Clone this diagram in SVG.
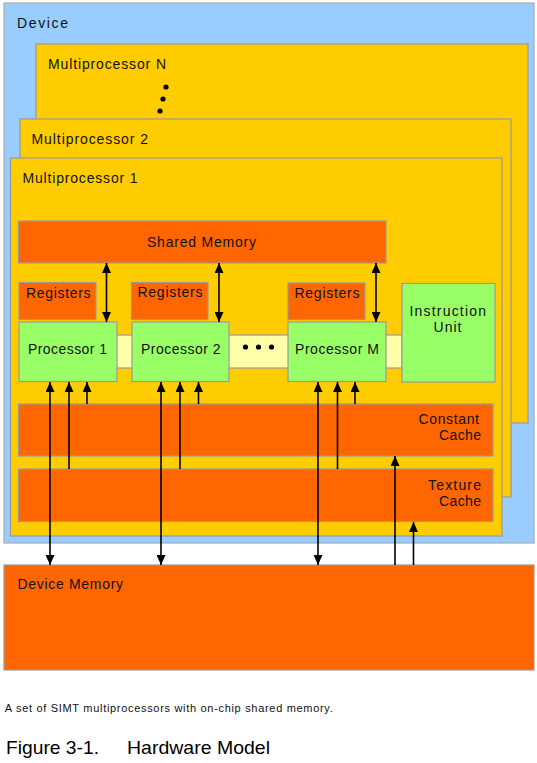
<svg xmlns="http://www.w3.org/2000/svg" width="537" height="763" viewBox="0 0 537 763">
<defs>
<marker id="ah" markerUnits="userSpaceOnUse" markerWidth="10" markerHeight="9" refX="10" refY="4.5" orient="auto-start-reverse" viewBox="0 0 10 9">
<path d="M0,0 L10,4.5 L0,9 z" fill="#000"/>
</marker>
<style>
.t{font-family:"Liberation Sans",Arial,sans-serif;font-size:14px;fill:#111;}
.bx{stroke:#999;stroke-width:1.2;}
.or{fill:#ff6600;}
.ye{fill:#ffcc00;}
.gr{fill:#99ff66;}
.ar{stroke:#000;stroke-width:1.6;fill:none;}
</style>
</defs>
<rect width="537" height="763" fill="#fff"/>
<g id="device">
<rect x="4" y="3" width="530" height="540" fill="#99ccff" stroke="#aaa" stroke-width="1.2"/>
<text class="t" x="17" y="28" textLength="51" lengthAdjust="spacing">Device</text>
</g>
<g id="mpN">
<rect class="bx ye" x="36" y="44" width="492" height="379"/>
<text class="t" x="48" y="69" textLength="118" lengthAdjust="spacing">Multiprocessor N</text>
<circle cx="166" cy="87" r="2.6" fill="#000"/>
<circle cx="163" cy="99" r="2.6" fill="#000"/>
<circle cx="160" cy="111" r="2.6" fill="#000"/>
</g>
<g id="mp2">
<rect class="bx ye" x="20" y="119" width="491" height="378"/>
<text class="t" x="31.5" y="144" textLength="116.5" lengthAdjust="spacing">Multiprocessor 2</text>
</g>
<g id="mp1">
<rect class="bx ye" x="10.5" y="158" width="491.5" height="378"/>
<text class="t" x="22.5" y="183" textLength="115" lengthAdjust="spacing">Multiprocessor 1</text>
</g>
<g id="bus">
<rect class="bx" x="116" y="335" width="286" height="33" fill="#ffffaa"/>
<circle cx="245.5" cy="347" r="2.6" fill="#000"/>
<circle cx="258.5" cy="347" r="2.6" fill="#000"/>
<circle cx="271.5" cy="347" r="2.6" fill="#000"/>
</g>
<g id="shared-memory">
<rect class="bx or" x="18.5" y="221" width="367.5" height="42"/>
<text class="t" x="147" y="247" textLength="109" lengthAdjust="spacing">Shared Memory</text>
</g>
<g id="registers-1">
<rect class="bx or" x="19" y="282.5" width="77" height="37"/>
<text class="t" x="26" y="297.5" textLength="64.5" lengthAdjust="spacing">Registers</text>
</g>
<g id="registers-2">
<rect class="bx or" x="131.5" y="282.5" width="76.5" height="37"/>
<text class="t" x="137.5" y="297" textLength="65" lengthAdjust="spacing">Registers</text>
</g>
<g id="registers-m">
<rect class="bx or" x="288" y="283" width="77" height="36.5"/>
<text class="t" x="294.5" y="297.5" textLength="65" lengthAdjust="spacing">Registers</text>
</g>
<g id="processor-1">
<rect class="bx gr" x="19" y="322" width="98" height="59.5"/>
<text class="t" x="28" y="354" textLength="79" lengthAdjust="spacing">Processor 1</text>
</g>
<g id="processor-2">
<rect class="bx gr" x="132" y="322" width="97" height="59.5"/>
<text class="t" x="141" y="354" textLength="79.5" lengthAdjust="spacing">Processor 2</text>
</g>
<g id="processor-m">
<rect class="bx gr" x="288" y="322" width="98" height="59.5"/>
<text class="t" x="295" y="354" textLength="84" lengthAdjust="spacing">Processor M</text>
</g>
<g id="instruction-unit">
<rect class="bx gr" x="402" y="283.5" width="93" height="98.5"/>
<text class="t" x="409.5" y="316" textLength="76.5" lengthAdjust="spacing">Instruction</text>
<text class="t" x="433.5" y="332" textLength="28" lengthAdjust="spacing">Unit</text>
</g>
<g id="constant-cache">
<rect class="bx or" x="18.5" y="404" width="474.5" height="52"/>
<text class="t" x="418.5" y="424" textLength="60.5" lengthAdjust="spacing">Constant</text>
<text class="t" x="439" y="440" textLength="42" lengthAdjust="spacing">Cache</text>
</g>
<g id="texture-cache">
<rect class="bx or" x="18.5" y="469" width="474.5" height="52.5"/>
<text class="t" x="428" y="490" textLength="53" lengthAdjust="spacing">Texture</text>
<text class="t" x="439" y="506" textLength="42" lengthAdjust="spacing">Cache</text>
</g>
<g id="device-memory">
<rect class="bx or" x="4" y="565" width="530" height="105"/>
<text class="t" x="17.5" y="589" textLength="105.5" lengthAdjust="spacing">Device Memory</text>
</g>
<g id="connectors">
<line class="ar" x1="106.5" y1="263" x2="106.5" y2="322" marker-start="url(#ah)" marker-end="url(#ah)"/>
<line class="ar" x1="219" y1="263" x2="219" y2="322" marker-start="url(#ah)" marker-end="url(#ah)"/>
<line class="ar" x1="376" y1="263" x2="376" y2="322" marker-start="url(#ah)" marker-end="url(#ah)"/>
<line class="ar" x1="50" y1="382" x2="50" y2="565" marker-start="url(#ah)" marker-end="url(#ah)"/>
<line class="ar" x1="69" y1="469" x2="69" y2="382" marker-end="url(#ah)"/>
<line class="ar" x1="87" y1="404" x2="87" y2="382" marker-end="url(#ah)"/>
<line class="ar" x1="161" y1="382" x2="161" y2="565" marker-start="url(#ah)" marker-end="url(#ah)"/>
<line class="ar" x1="180" y1="469" x2="180" y2="382" marker-end="url(#ah)"/>
<line class="ar" x1="198.5" y1="404" x2="198.5" y2="382" marker-end="url(#ah)"/>
<line class="ar" x1="318" y1="382" x2="318" y2="565" marker-start="url(#ah)" marker-end="url(#ah)"/>
<line class="ar" x1="337.5" y1="469" x2="337.5" y2="382" marker-end="url(#ah)"/>
<line class="ar" x1="355" y1="404" x2="355" y2="382" marker-end="url(#ah)"/>
<line class="ar" x1="395" y1="565" x2="395" y2="456" marker-end="url(#ah)"/>
<line class="ar" x1="413.5" y1="565" x2="413.5" y2="522" marker-end="url(#ah)"/>
</g>
<text x="4.8" y="712" font-family="'Liberation Sans',Arial,sans-serif" font-size="11" fill="#111" textLength="328" lengthAdjust="spacing">A set of SIMT multiprocessors with on-chip shared memory.</text>
<text x="6" y="754" font-family="'Liberation Sans',Arial,sans-serif" font-size="19" fill="#000" textLength="93" lengthAdjust="spacingAndGlyphs">Figure 3-1.</text>
<text x="127" y="754" font-family="'Liberation Sans',Arial,sans-serif" font-size="19" fill="#000" textLength="143" lengthAdjust="spacingAndGlyphs">Hardware Model</text>
</svg>
